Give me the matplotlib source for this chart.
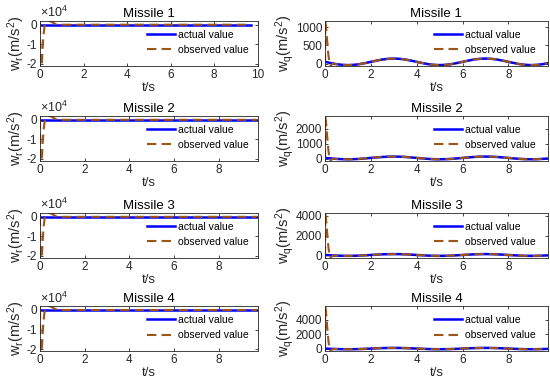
import matplotlib.pyplot as plt
import numpy as np

plt.rcParams['font.family'] = ['Liberation Sans', 'DejaVu Sans']
plt.rcParams['mathtext.fontset'] = 'custom'
plt.rcParams['mathtext.rm'] = 'Liberation Sans'
plt.rcParams['mathtext.it'] = 'Liberation Sans'

# ---- data ----
missiles = ['Missile 1', 'Missile 2', 'Missile 3', 'Missile 4']

# smooth part, sampled every 0.25 s
t_act = [0.0, 0.25, 0.5, 0.75, 1.0, 1.25, 1.5, 1.75, 2.0, 2.25, 2.5, 2.75,
         3.0, 3.25, 3.5, 3.75, 4.0, 4.25, 4.5, 4.75, 5.0, 5.25, 5.5, 5.75,
         6.0, 6.25, 6.5, 6.75, 7.0, 7.25, 7.5, 7.75, 8.0, 8.25, 8.5, 8.75,
         9.0, 9.25, 9.5, 9.7]
wq_act = [50, 16, -14, -33, -40, -33, -14, 16, 50, 84, 114, 133,
          140, 133, 114, 84, 50, 16, -14, -33, -40, -33, -14, 16,
          50, 84, 114, 133, 140, 133, 114, 84, 50, 16, -14, -33,
          -40, -33, -14, 10]

t_r_act = [0.0, 9.7]
wr_act = [0, 0]

# observer transient for w_r (same shape on every missile)
t_r_obs = [0.0, 0.02, 0.05, 0.08, 0.1, 0.13, 0.16, 0.2, 0.25, 0.3, 0.4,
           0.5, 0.6, 0.7, 0.85, 1.0, 9.7]
wr_obs = [0, -15000, -21000, -20000, -16500, -10500, -5500, -1500, 600,
          1500, 2000, 1700, 1000, 400, 100, 0, 0]

# observer transient for w_q, then it follows the actual value
t_q_obs = [0.0, 0.01, 0.03, 0.06, 0.09, 0.12, 0.15, 0.18, 0.22, 0.27, 0.35, 0.45]
wq_obs = {
    'Missile 1': [0, 1180, 1080, 900, 650, 420, 220, 70, -60, -40, 5, -10],
    'Missile 2': [0, 2850, 2600, 2150, 1550, 1000, 520, 160, -150, -90, 5, -10],
    'Missile 3': [0, 4300, 3900, 3250, 2350, 1500, 780, 240, -250, -150, 5, -10],
    'Missile 4': [0, 5900, 5400, 4450, 3200, 2050, 1070, 330, -300, -180, 5, -10],
}

wq_ylim = {'Missile 1': (-60, 1180), 'Missile 2': (-150, 2850),
           'Missile 3': (-250, 4300), 'Missile 4': (-300, 5900)}
wq_ticks = {'Missile 1': [0, 500, 1000], 'Missile 2': [0, 1000, 2000],
            'Missile 3': [0, 2000, 4000], 'Missile 4': [0, 2000, 4000]}

blue = '#0000FF'
brown = '#9C5418'
dark = '#262626'

fig = plt.figure(figsize=(5.5, 3.85), dpi=100)

bottoms = [0.829, 0.582, 0.330, 0.088]
h = 0.117


def style_axes(ax):
    for s in ax.spines.values():
        s.set_color(dark)
        s.set_linewidth(0.6)
    ax.tick_params(direction='in', length=2.5, width=0.6, labelsize=8.5,
                   colors=dark, top=True, right=True, pad=2)
    ax.set_xlabel('t/s', fontsize=9.5, labelpad=1, color=dark)


def add_legend(ax, x):
    ax.legend(loc='upper left', bbox_to_anchor=(x, 0.8), frameon=False,
              fontsize=7.5, handlelength=2.7, handletextpad=0.3,
              labelspacing=0.5, borderaxespad=0, borderpad=0)


for i, name in enumerate(missiles):
    # left column: w_r
    ax = fig.add_axes([0.0727, bottoms[i], 0.396, h])
    ax.plot(t_r_act, wr_act, color=blue, lw=1.8, label='actual value')
    ax.plot(t_r_obs, wr_obs, '--', color=brown, lw=1.5, dashes=(4.5, 2.5),
            label='observed value')
    ax.set_ylim(-21000, 2000)
    ax.set_yticks([0, -10000, -20000])
    ax.set_yticklabels(['0', '-1', '-2'])
    if i == 0:
        ax.set_xlim(0, 10)
        ax.set_xticks([0, 2, 4, 6, 8, 10])
    else:
        ax.set_xlim(0, 9.75)
        ax.set_xticks([0, 2, 4, 6, 8])
    ax.text(0.0, 1.01, r'$\times10^4$', transform=ax.transAxes, fontsize=9,
            color=dark, va='bottom', ha='left')
    ax.set_title(name, fontsize=9.5, pad=3, color='black')
    ax.set_ylabel(r'$\mathregular{w_r(m/s^2)}$', fontsize=10.5, labelpad=0,
                  color=dark)
    style_axes(ax)
    add_legend(ax, 0.49)

    # right column: w_q
    ax = fig.add_axes([0.591, bottoms[i], 0.405, h])
    t_obs = t_q_obs + [t for t in t_act if t >= 0.5]
    v_obs = wq_obs[name] + [v for t, v in zip(t_act, wq_act) if t >= 0.5]
    ax.plot(t_act, wq_act, color=blue, lw=1.8, label='actual value')
    ax.plot(t_obs, v_obs, '--', color=brown, lw=1.5, dashes=(4.5, 2.5),
            label='observed value')
    ax.set_xlim(0, 9.72)
    ax.set_xticks([0, 2, 4, 6, 8])
    ax.set_ylim(*wq_ylim[name])
    ax.set_yticks(wq_ticks[name])
    ax.set_title(name, fontsize=9.5, pad=3, color='black')
    ax.set_ylabel(r'$\mathregular{w_q(m/s^2)}$', fontsize=10.5, labelpad=0,
                  color=dark)
    style_axes(ax)
    add_legend(ax, 0.49)

fig.savefig('out.png', dpi=100)
